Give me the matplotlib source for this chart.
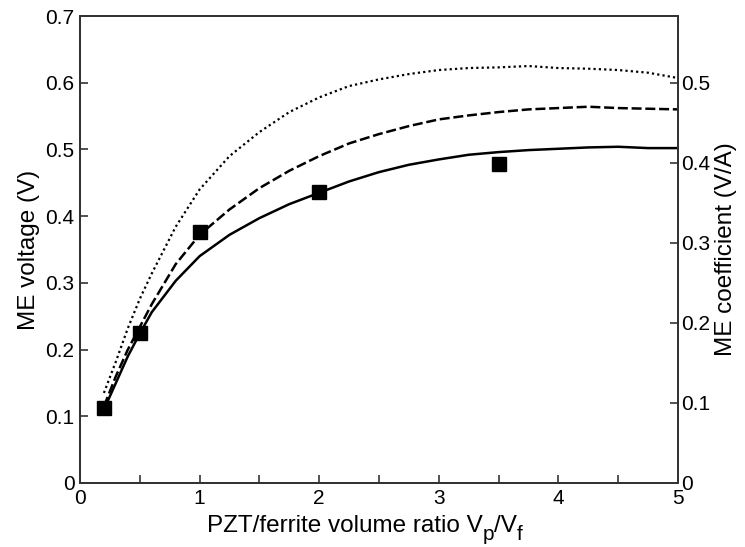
import matplotlib
matplotlib.use("Agg")
import matplotlib.pyplot as plt

plt.rcParams['font.family'] = ['Liberation Sans', 'DejaVu Sans']

# measured data (squares)
ratio_meas = [0.2, 0.5, 1.0, 2.0, 3.5]
voltage_meas = [0.112, 0.225, 0.376, 0.436, 0.478]

# model curves
ratio_curve = [0.2, 0.3, 0.4, 0.5, 0.6, 0.8, 1.0, 1.25, 1.5, 1.75, 2.0, 2.25, 2.5,
               2.75, 3.0, 3.25, 3.5, 3.75, 4.0, 4.25, 4.5, 4.75, 5.0]
v_solid = [0.110, 0.150, 0.190, 0.224, 0.256, 0.303, 0.340, 0.372, 0.397, 0.418, 0.435,
           0.452, 0.466, 0.477, 0.485, 0.492, 0.496, 0.499, 0.501, 0.503, 0.504, 0.502, 0.502]
v_dashed = [0.115, 0.160, 0.200, 0.234, 0.268, 0.328, 0.372, 0.410, 0.442, 0.468, 0.490,
            0.509, 0.523, 0.535, 0.545, 0.551, 0.556, 0.560, 0.562, 0.564, 0.562, 0.561, 0.560]
v_dotted = [0.135, 0.182, 0.232, 0.276, 0.314, 0.384, 0.440, 0.490, 0.526, 0.556, 0.578,
            0.595, 0.605, 0.613, 0.619, 0.622, 0.623, 0.625, 0.622, 0.621, 0.619, 0.615, 0.607]

x_ticks = [0, 0.5, 1, 1.5, 2, 2.5, 3, 3.5, 4, 4.5, 5]
x_ticklabels = ['0', '', '1', '', '2', '', '3', '', '4', '', '5']
y_left_ticks = [0, 0.1, 0.2, 0.3, 0.4, 0.5, 0.6, 0.7]
y_left_labels = ['0', '0.1', '0.2', '0.3', '0.4', '0.5', '0.6', '0.7']
y_right_ticks = [0, 0.1, 0.2, 0.3, 0.4, 0.5]
y_right_labels = ['0', '0.1', '0.2', '0.3', '0.4', '0.5']

fig = plt.figure(figsize=(7.45, 5.47), dpi=100)
ax = fig.add_axes([80/745, (547-483)/547, 598/745, 467/547])

spine_color = '#333333'
ax.plot(ratio_curve, v_dotted, color='black', lw=1.6, linestyle=(0, (1, 1.4)))
ax.plot(ratio_curve, v_dashed, color='black', lw=1.8, linestyle=(0, (4, 1.5)))
ax.plot(ratio_curve, v_solid, color='black', lw=1.8)
ax.plot(ratio_meas, voltage_meas, 's', color='black', markersize=10.5, zorder=5, clip_on=False)

ax.set_xlim(0, 5)
ax.set_ylim(0, 0.7)
ax.set_xticks(x_ticks)
ax.set_xticklabels(x_ticklabels)
ax.set_yticks(y_left_ticks)
ax.set_yticklabels(y_left_labels)
ax.tick_params(direction='in', length=6, width=1.2, color=spine_color, labelsize=15, pad=4)
ax.tick_params(axis='x', pad=4)
for s in ax.spines.values():
    s.set_color(spine_color)
    s.set_linewidth(1.4)

ax.set_ylabel('ME voltage (V)', fontsize=17.5, labelpad=4)

# x label with large, low subscripts (built as a chain of texts)
fs_main, fs_sub = 17.5, 15
t1 = fig.text(207/745, 15/547, 'PZT/ferrite volume ratio V', fontsize=fs_main,
              ha='left', va='baseline')
t2 = ax.annotate('p', xy=(1, 7), xycoords=(t1, 'figure pixels'), fontsize=fs_sub,
                 ha='left', va='baseline', annotation_clip=False)
t3 = ax.annotate('/V', xy=(1, 15), xycoords=(t2, 'figure pixels'), fontsize=fs_main,
                 ha='left', va='baseline', annotation_clip=False)
t4 = ax.annotate('f', xy=(1, 7), xycoords=(t3, 'figure pixels'), fontsize=fs_sub,
                 ha='left', va='baseline', annotation_clip=False)

ax2 = ax.twinx()
ax2.set_ylim(0, 0.7/1.2)
ax2.set_yticks(y_right_ticks)
ax2.set_yticklabels(y_right_labels)
ax2.tick_params(direction='in', length=6, width=1.2, color=spine_color, labelsize=15, pad=2)
for s in ax2.spines.values():
    s.set_color(spine_color)
    s.set_linewidth(1.4)
ax2.set_ylabel('ME coefficient (V/A)', fontsize=17.5, labelpad=4)

fig.savefig('out.png', dpi=100)
